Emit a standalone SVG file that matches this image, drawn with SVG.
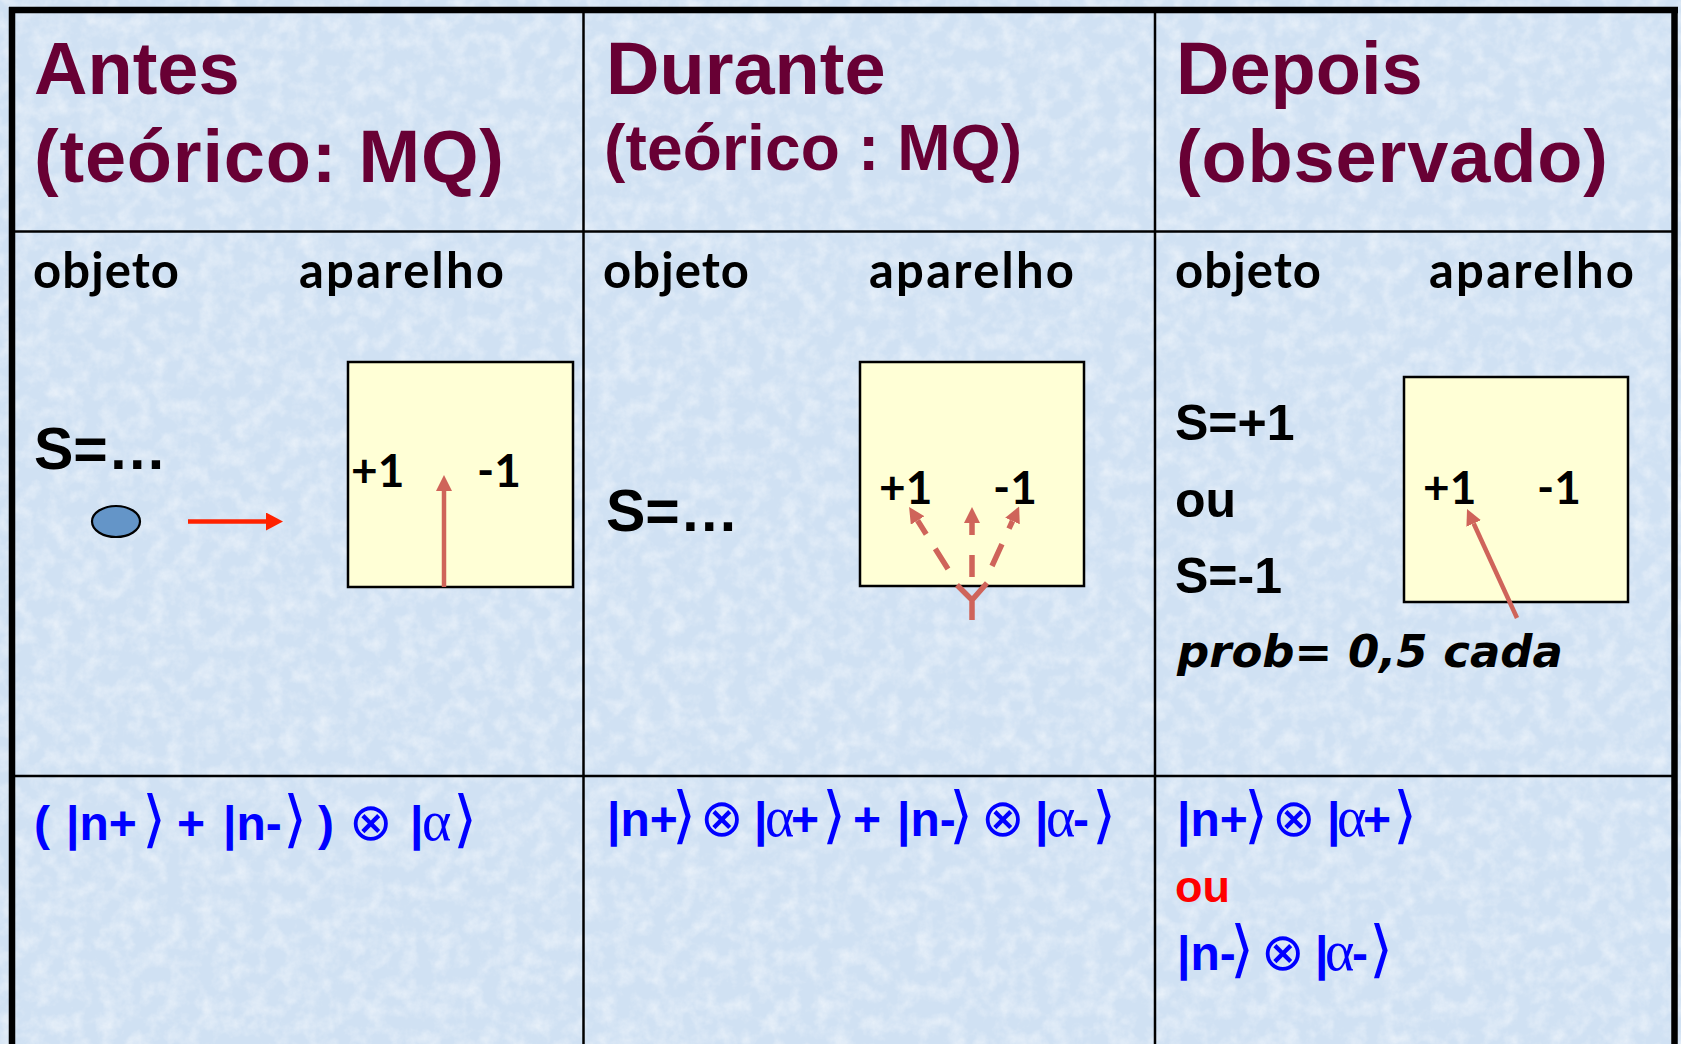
<svg xmlns="http://www.w3.org/2000/svg" width="1681" height="1044" viewBox="0 0 1681 1044">
<style>
.hd{font-family:"Liberation Sans",Arial,sans-serif;font-weight:bold;fill:#680034}
.lb{font-family:Lato,"Liberation Sans",sans-serif;font-weight:bold;fill:#000;font-size:49px}
.bx{font-family:Lato,"Liberation Sans",sans-serif;font-weight:bold;fill:#000;font-size:46px}
.sv{font-family:"Liberation Sans",Arial,sans-serif;font-weight:bold;fill:#000}
.pr{font-family:"DejaVu Sans",Verdana,sans-serif;font-weight:bold;font-style:oblique;fill:#000;font-size:45px}
.eq{font-family:"Liberation Sans",Arial,sans-serif;font-weight:bold;fill:#0000ff;font-size:48px}
.ab{font-family:"DejaVu Sans",sans-serif;font-weight:normal;font-size:62px}
.ot{font-family:"DejaVu Sans",sans-serif;font-weight:normal;font-size:52px}
.gr{font-family:"Liberation Serif","DejaVu Serif",serif;font-weight:normal;font-size:56px}
.red{font-family:"Liberation Sans",Arial,sans-serif;font-weight:bold;fill:#ff0000;font-size:45px}
.box{fill:#ffffd6;stroke:#000;stroke-width:2.5}
.thick{stroke:#000;stroke-width:6.5;fill:none}
.thin{stroke:#000;stroke-width:2.5;fill:none}
.sal{stroke:#cf645a;stroke-width:4.5;fill:none}
.dash{stroke:#cf645a;stroke-width:5.5;fill:none}
</style>
<defs>
<filter id="tex" x="0" y="0" width="100%" height="100%">
<feTurbulence type="fractalNoise" baseFrequency="0.06" numOctaves="4" seed="7"/>
<feColorMatrix type="matrix" values="0 0 0 0 1  0 0 0 0 1  0 0 0 0 1  0 0 0 1.3 -0.5"/>
</filter>
<marker id="ah" markerUnits="userSpaceOnUse" markerWidth="16" markerHeight="16" viewBox="0 0 16 16" refX="0" refY="8" orient="auto">
<path d="M0,0 L16,8 L0,16 z" fill="#cf645a"/>
</marker>
<marker id="ahr" markerUnits="userSpaceOnUse" markerWidth="17" markerHeight="18" viewBox="0 0 17 18" refX="0" refY="9" orient="auto">
<path d="M0,0 L17,9 L0,18 z" fill="#ff2200"/>
</marker>
</defs>
<rect x="0" y="0" width="1681" height="1044" fill="#d0e1f3"/>
<rect x="0" y="0" width="1681" height="1044" filter="url(#tex)" opacity="0.7"/>

<g id="grid">
<line class="thick" x1="12" y1="7" x2="12" y2="1044"/>
<line class="thick" x1="9" y1="10" x2="1678" y2="10"/>
<line class="thick" x1="1674.5" y1="7" x2="1674.5" y2="1044"/>
<line class="thin" x1="583.5" y1="10" x2="583.5" y2="1044"/>
<line class="thin" x1="1155" y1="10" x2="1155" y2="1044"/>
<line class="thin" x1="12" y1="231.5" x2="1674" y2="231.5"/>
<line class="thin" x1="12" y1="776" x2="1674" y2="776"/>
</g>

<g id="header-antes">
<text class="hd" x="34" y="94" font-size="74">Antes</text>
<text class="hd" x="34" y="182" font-size="74" textLength="470">(teórico: MQ)</text>
</g>
<g id="header-durante">
<text class="hd" x="606" y="94" font-size="74">Durante</text>
<text class="hd" x="604" y="170" font-size="64" textLength="418">(teórico : MQ)</text>
</g>
<g id="header-depois">
<text class="hd" x="1176" y="94" font-size="74">Depois</text>
<text class="hd" x="1176" y="182" font-size="74" textLength="432">(observado)</text>
</g>

<g id="labels">
<text class="lb" x="33" y="288" textLength="146">objeto</text>
<text class="lb" x="299" y="288" textLength="205">aparelho</text>
<text class="lb" x="603" y="288" textLength="146">objeto</text>
<text class="lb" x="869" y="288" textLength="205">aparelho</text>
<text class="lb" x="1175" y="288" textLength="146">objeto</text>
<text class="lb" x="1429" y="288" textLength="205">aparelho</text>
</g>

<g id="antes-object">
<text class="sv" x="34" y="469" font-size="59">S=…</text>
<ellipse cx="116" cy="521.5" rx="24" ry="15.5" fill="#6495c8" stroke="#000" stroke-width="2.2"/>
</g>
<g id="antes-apparatus">
<rect class="box" x="348" y="362" width="225" height="225"/>
<text class="bx" x="351" y="487">+1</text>
<text class="bx" x="477" y="487">-1</text>
</g>

<g id="durante-object">
<text class="sv" x="606" y="531" font-size="59">S=…</text>
</g>
<g id="durante-apparatus">
<rect class="box" x="860" y="362" width="224" height="224"/>
<text class="bx" x="879" y="504">+1</text>
<text class="bx" x="993" y="504">-1</text>
</g>

<g id="depois-object">
<text class="sv" x="1175" y="440" font-size="50">S=+1</text>
<text class="sv" x="1175" y="517" font-size="50">ou</text>
<text class="sv" x="1175" y="593" font-size="50">S=-1</text>
<text class="pr" x="1177" y="667">prob= 0,5 cada</text>
</g>
<g id="depois-apparatus">
<rect class="box" x="1404" y="377" width="224" height="225"/>
<text class="bx" x="1423" y="504">+1</text>
<text class="bx" x="1537" y="504">-1</text>
</g>

<g id="connectors">
<line x1="188" y1="521.5" x2="266" y2="521.5" stroke="#ff2200" stroke-width="4.5" marker-end="url(#ahr)"/>
<line class="sal" x1="444" y1="587" x2="444" y2="491" marker-end="url(#ah)"/>
<line class="sal" x1="1517" y1="618" x2="1473.7" y2="523.5" marker-end="url(#ah)"/>
<path class="dash" d="M957,585 L972,600 L987,583 M972,600 V620"/>
<line class="dash" x1="972" y1="577" x2="972" y2="523" stroke-dasharray="22 20" marker-end="url(#ah)"/>
<line class="dash" x1="948" y1="569" x2="917.6" y2="520.5" stroke-dasharray="24 17" marker-end="url(#ah)"/>
<line class="dash" x1="992" y1="566" x2="1012.5" y2="521" stroke-dasharray="24 17" marker-end="url(#ah)"/>
</g>

<g id="state-antes">
<text class="eq" y="840"><tspan x="34">(</tspan><tspan x="66">|n+</tspan><tspan x="142" class="ab">⟩</tspan><tspan x="177">+</tspan><tspan x="223">|n-</tspan><tspan x="283" class="ab">⟩</tspan><tspan x="318">)</tspan><tspan x="349" class="ot">⊗</tspan><tspan x="410">|</tspan><tspan x="422" class="gr">α</tspan><tspan x="453" class="ab">⟩</tspan></text>
</g>
<g id="state-durante">
<text class="eq" y="836"><tspan x="607">|n+</tspan><tspan x="672" class="ab">⟩</tspan><tspan x="700" class="ot">⊗</tspan><tspan x="754">|</tspan><tspan x="765" class="gr">α</tspan><tspan x="791">+</tspan><tspan x="822" class="ab">⟩</tspan><tspan x="853">+</tspan><tspan x="897">|n-</tspan><tspan x="949" class="ab">⟩</tspan><tspan x="981" class="ot">⊗</tspan><tspan x="1035">|</tspan><tspan x="1046" class="gr">α</tspan><tspan x="1073">-</tspan><tspan x="1092" class="ab">⟩</tspan></text>
</g>
<g id="state-depois">
<text class="eq" y="836"><tspan x="1177">|n+</tspan><tspan x="1244" class="ab">⟩</tspan><tspan x="1272" class="ot">⊗</tspan><tspan x="1327">|</tspan><tspan x="1337" class="gr">α</tspan><tspan x="1363">+</tspan><tspan x="1393" class="ab">⟩</tspan></text>
<text class="red" x="1175" y="902">ou</text>
<text class="eq" y="970"><tspan x="1177">|n-</tspan><tspan x="1230" class="ab">⟩</tspan><tspan x="1261" class="ot">⊗</tspan><tspan x="1315">|</tspan><tspan x="1325" class="gr">α</tspan><tspan x="1352">-</tspan><tspan x="1369" class="ab">⟩</tspan></text>
</g>
</svg>
